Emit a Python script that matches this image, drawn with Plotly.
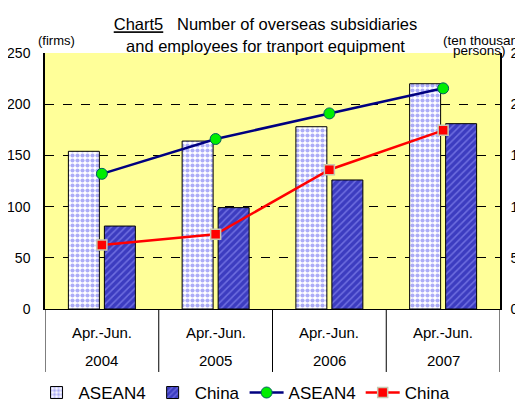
import plotly.graph_objects as go

years = ["2004", "2005", "2006", "2007"]
period = ["Apr.-Jun."] * 4

# firms (left axis)
asean_firms = [154, 164, 178, 220]
china_firms = [81, 99, 126, 181]
# employees, ten thousand persons (right axis)
asean_emp = [13.2, 16.6, 19.1, 21.55]
china_emp = [6.25, 7.3, 13.6, 17.45]

left_ticks = [0, 50, 100, 150, 200, 250]
right_ticks = [0, 5, 10, 15, 20, 25]

font = "Liberation Sans, Arial, sans-serif"

fig = go.Figure()

fig.add_trace(go.Bar(
    x=years, y=asean_firms, name="ASEAN4",
    marker=dict(color="white", line=dict(color="black", width=1),
                pattern=dict(shape=".", fgcolor="#5A5AF0", bgcolor="white",
                             size=5, solidity=0.55, fillmode="overlay")),
))
fig.add_trace(go.Bar(
    x=years, y=china_firms, name="China",
    marker=dict(color="#3C3CC0", line=dict(color="black", width=1),
                pattern=dict(shape="/", fgcolor="#A0A0FF", bgcolor="#3C3CC0",
                             size=5, solidity=0.3, fillmode="overlay")),
))
fig.add_trace(go.Scatter(
    x=years, y=asean_emp, name="ASEAN4", yaxis="y2", mode="lines+markers",
    line=dict(color="#000080", width=2.5),
    marker=dict(symbol="circle", size=11, color="#00EE00",
                line=dict(color="#006060", width=1)),
))
fig.add_trace(go.Scatter(
    x=years, y=china_emp, name="China", yaxis="y2", mode="lines+markers",
    line=dict(color="#FF0000", width=2.5),
    marker=dict(symbol="square", size=10, color="#FF0000",
                line=dict(color="#C8C8B0", width=1.5)),
))

# category labels and separators below the plot area
annotations = []
for i, (yr, per) in enumerate(zip(years, period)):
    annotations.append(dict(text=per, x=i, xref="x", y=-0.09, yref="paper",
                            showarrow=False, xanchor="center", yanchor="middle",
                            font=dict(size=15)))
    annotations.append(dict(text=yr, x=i, xref="x", y=-0.203, yref="paper",
                            showarrow=False, xanchor="center", yanchor="middle",
                            font=dict(size=15)))
shapes = [dict(type="line", xref="x", yref="paper", x0=i - 0.5, x1=i - 0.5,
               y0=0, y1=-0.246, line=dict(color="black", width=1))
          for i in range(len(years) + 1)]

annotations += [
    dict(text="(firms)", xref="paper", yref="paper", x=0.026, y=1.05,
         xanchor="center", yanchor="middle", showarrow=False, font=dict(size=13)),
    dict(text="(ten thousand", xref="paper", yref="paper", x=0.87, y=1.05,
         xanchor="left", yanchor="middle", showarrow=False, font=dict(size=13.5)),
    dict(text="persons)", xref="paper", yref="paper", x=1.018, y=1.01,
         xanchor="right", yanchor="middle", showarrow=False, font=dict(size=13.5)),
]

# page body adds an 8px offset, so the figure is sized to end at the window edge
fig.update_layout(
    width=515, height=398,
    margin=dict(l=37, r=23, t=45, b=97, autoexpand=False),
    paper_bgcolor="white",
    plot_bgcolor="#FFFF99",
    font=dict(family=font, size=14, color="black"),
    barmode="group", bargap=0.367, bargroupgap=0.139,
    title=dict(
        text="<u>Chart5</u>   Number of overseas subsidiaries<br>and employees for tranport equipment",
        x=0.5, xanchor="center", y=0.944, yanchor="middle",
        font=dict(family=font, size=16.5, color="black"),
    ),
    xaxis=dict(
        type="category", showline=True, linecolor="black", linewidth=1,
        showticklabels=False, showgrid=False, automargin=False,
        range=[-0.5, len(years) - 0.5],
    ),
    yaxis=dict(
        range=[0, 250], tickvals=left_ticks, showline=True, linecolor="black",
        linewidth=1.5, showgrid=True, gridcolor="black", griddash="dash",
        gridwidth=1, zeroline=False, ticks="", ticklabelstandoff=10,
        tickfont=dict(size=14), automargin=False,
    ),
    yaxis2=dict(
        range=[0, 25], tickvals=right_ticks, overlaying="y", side="right",
        showline=True, linecolor="black", linewidth=1.5, showgrid=False,
        zeroline=False, ticks="", ticklabelstandoff=6,
        tickfont=dict(size=14), automargin=False,
    ),
    legend=dict(
        orientation="h", x=-0.023, xanchor="left", y=-0.328, yanchor="middle",
        font=dict(size=17), bgcolor="rgba(0,0,0,0)",
        traceorder="normal", itemwidth=34,
    ),
    annotations=annotations,
    shapes=shapes,
)

fig.write_html("out.html")
